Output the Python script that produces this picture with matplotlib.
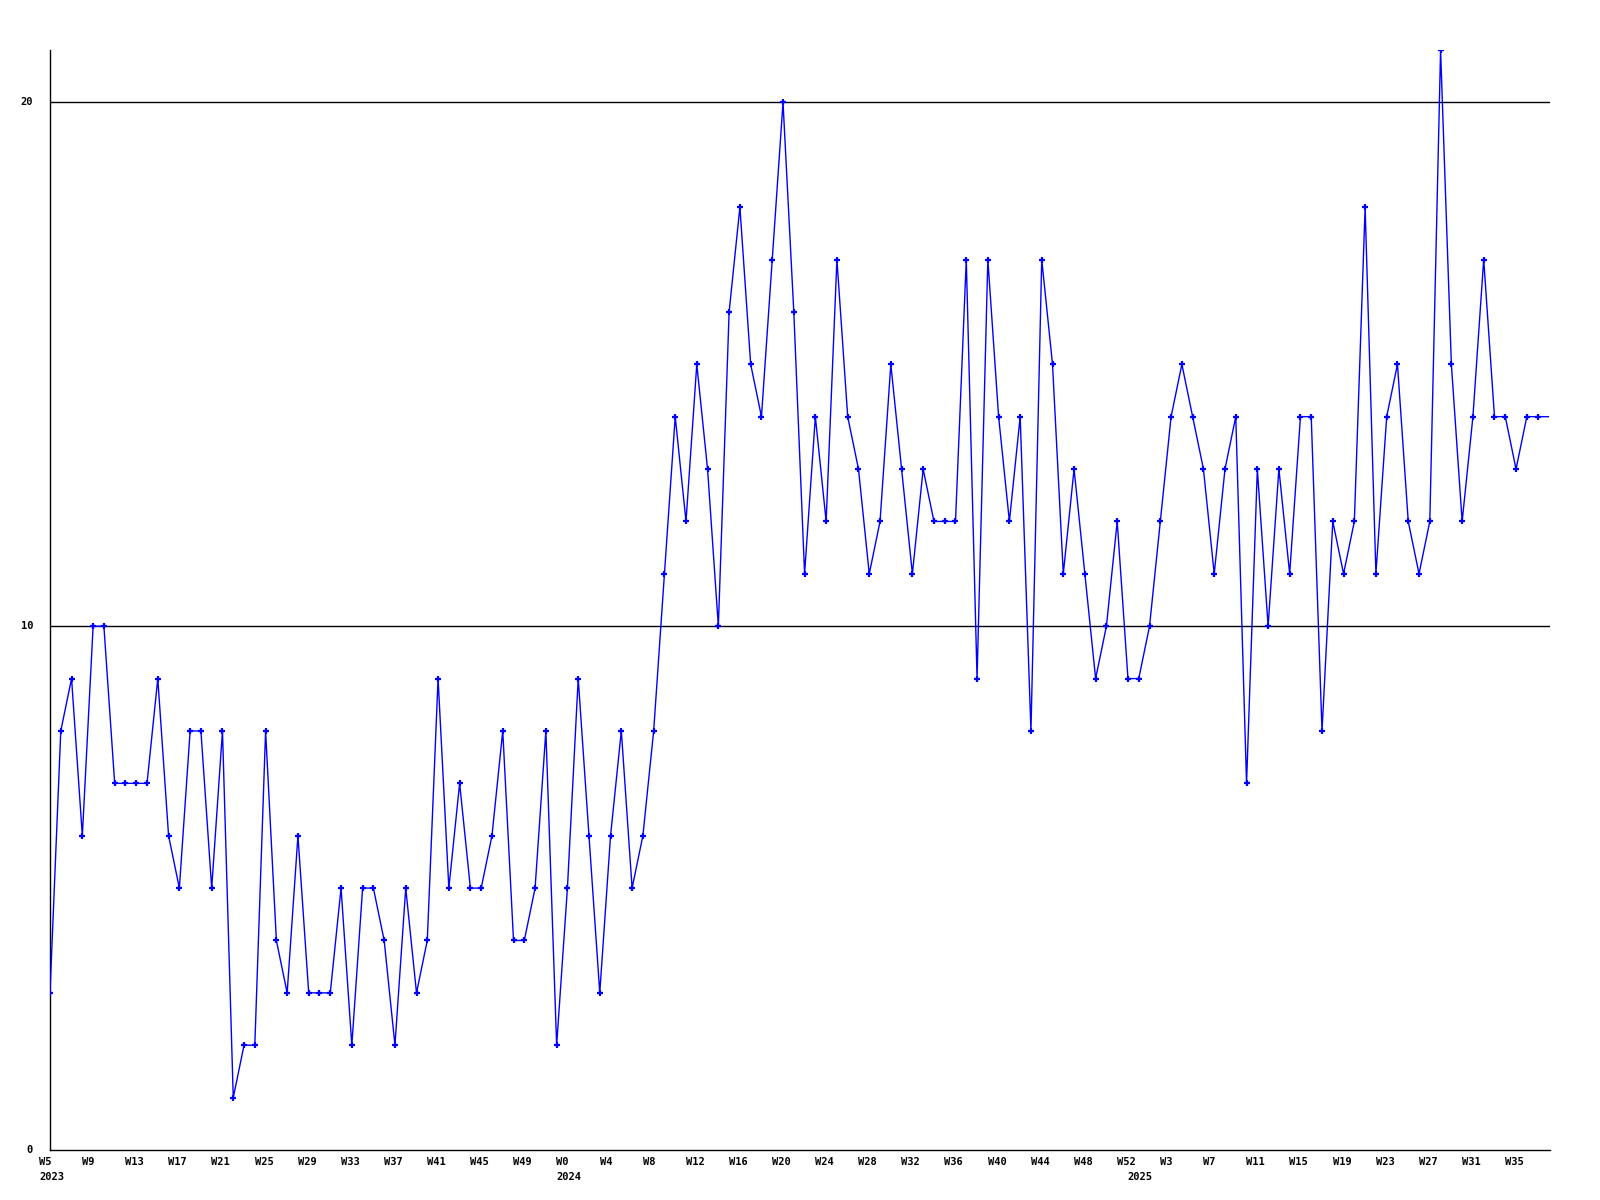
import matplotlib
matplotlib.use('Agg')
import matplotlib.pyplot as plt
from matplotlib.transforms import offset_copy

# 每周数值 (2023 W5 起)
values_2023 = [3, 8, 9, 6, 10, 10, 7, 7, 7, 7, 9, 6, 5, 8, 8, 5, 8, 1, 2, 2,
               8, 4, 3, 6, 3, 3, 3, 5, 2, 5, 5, 4, 2, 5, 3, 4, 9, 5, 7, 5,
               5, 6, 8, 4, 4, 5, 8, 2]
values_2024 = [5, 9, 6, 3, 6, 8, 5, 6, 8, 11, 14, 12, 15, 13, 10, 16, 18, 15,
               14, 17, 20, 16, 11, 14, 12, 17, 14, 13, 11, 12, 15, 13, 11, 13,
               12, 12, 12, 17, 9, 17, 14, 12, 14, 8, 17, 15, 11, 13, 11, 9,
               10, 12, 9]
values_2025 = [9, 10, 12, 14, 15, 14, 13, 11, 13, 14, 7, 13, 10, 13, 11, 14,
               14, 8, 12, 11, 12, 18, 11, 14, 15, 12, 11, 12, 21, 15, 12, 14,
               17, 14, 14, 13, 14, 14, 14]

years = ['2023', '2024', '2025']
first_week = [5, 0, 0]
year_values = [values_2023, values_2024, values_2025]

y_ticks = [0, 10, 20]

# 配置
LINE_COLOR = '#0000ff'
FONT = dict(family='DejaVu Sans Mono', weight='bold', size=7.5)


def main():
    values = []
    week_labels = []
    year_marks = []
    for year, start, vals in zip(years, first_week, year_values):
        year_marks.append((len(values), year))
        week_labels += ['W%d' % (start + i) for i in range(len(vals))]
        values += vals
    x = list(range(len(values)))

    fig = plt.figure(figsize=(16, 12), dpi=100)
    ax = fig.add_axes([50 / 1600, 50 / 1200, 1500 / 1600, 1100 / 1200])

    for v in y_ticks[1:]:
        ax.axhline(v, color='black', lw=1, zorder=1)

    # 最后一周不画点
    ax.plot(x, values, color=LINE_COLOR, lw=1, marker='+', markersize=4.5,
            mew=1.6, markevery=list(range(len(values) - 1)), zorder=3)

    ax.set_xlim(0, len(values) - 1 + 0.15)
    ax.set_ylim(0, 21)
    ax.set_xticks([])
    ax.set_yticks([])
    for side in ['top', 'right']:
        ax.spines[side].set_visible(False)
    for side in ['left', 'bottom']:
        ax.spines[side].set_linewidth(1)
        ax.spines[side].set_color('black')

    # y轴标签
    ytr = offset_copy(ax.get_yaxis_transform(), fig=fig, x=-17, y=0, units='dots')
    for v in y_ticks:
        ax.text(0, v, str(v), transform=ytr, ha='right', va='center', **FONT)

    # x轴周标签
    wtr = offset_copy(ax.get_xaxis_transform(), fig=fig, x=-11, y=-7, units='dots')
    for i in range(0, len(values), 4):
        ax.text(i, 0, week_labels[i], transform=wtr, ha='left', va='top',
                clip_on=False, **FONT)

    ytr2 = offset_copy(ax.get_xaxis_transform(), fig=fig, x=-11, y=-22, units='dots')
    for i, year in year_marks:
        ax.text(i, 0, year, transform=ytr2, ha='left', va='top',
                clip_on=False, **FONT)

    fig.savefig('out.png', dpi=100, facecolor='white')
    plt.close(fig)


if __name__ == '__main__':
    main()
